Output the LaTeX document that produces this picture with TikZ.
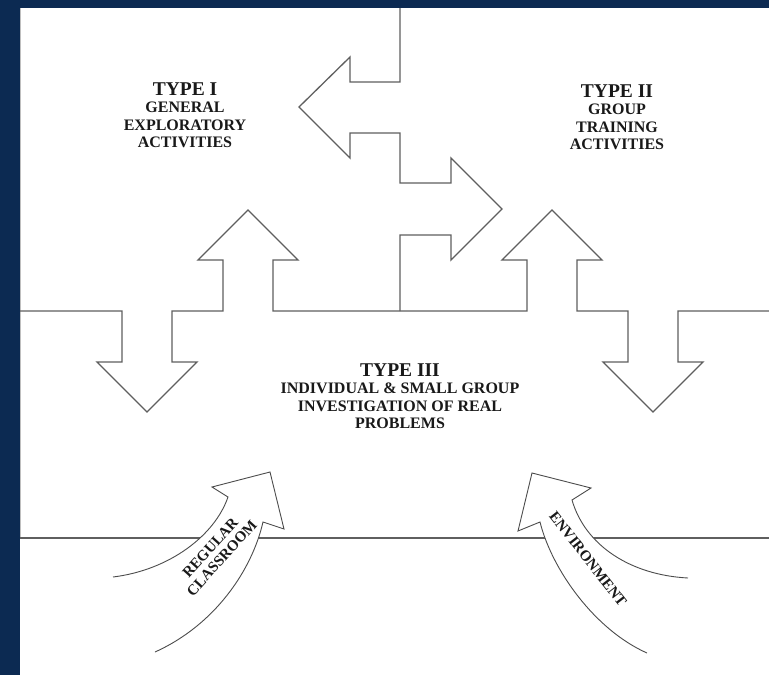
\documentclass[tikz,border=0pt]{standalone}
\usepackage{fontspec}
\setmainfont{Liberation Serif}
\definecolor{navy}{RGB}{12,42,82}
\definecolor{lineg}{RGB}{95,95,95}
\tikzset{
  outline/.style={draw=lineg, line width=1.3pt},
  bigarrow/.style={draw=lineg!80!black, fill=white, line width=0.9pt},
  typetext/.style={align=center, inner sep=0pt, text=black!90,
    font=\bfseries\fontsize{16}{17.5}\selectfont},
  curvetext/.style={align=center, inner sep=0pt, text=black!90,
    font=\bfseries\fontsize{15}{15.5}\selectfont}
}
\newcommand{\typehead}[1]{{\fontsize{19.5}{17.5}\selectfont #1}}

\begin{document}
\begin{tikzpicture}[x=1pt,y=-1pt]
  \useasboundingbox (0,0) rectangle (769,675);
  \fill[navy] (0,0) rectangle (769,675);
  \fill[white] (20,8) rectangle (769,675);
  \draw[gray!50] (20.5,8) -- (20.5,538);
  \draw[outline] (400,8) -- (400,82) -- (350,82) -- (350,57) -- (299,107) -- (350,158) -- (350,133)
    -- (400,133) -- (400,183) -- (451,183) -- (451,158) -- (502,209) -- (451,260) -- (451,235)
    -- (400,235) -- (400,311);
  \draw[outline] (20,311) -- (122,311) -- (122,362) -- (97,362) -- (147,412) -- (197,362) -- (172,362)
    -- (172,311) -- (223,311) -- (223,260) -- (198,260) -- (248,210) -- (298,260) -- (273,260)
    -- (273,311) -- (527,311) -- (527,260) -- (502,260) -- (552,210) -- (602,260) -- (577,260)
    -- (577,311) -- (628,311) -- (628,362) -- (603,362) -- (653,412) -- (703,362) -- (678,362)
    -- (678,311) -- (769,311);
  \draw[outline] (20,538) -- (769,538);
  \draw[bigarrow] (113,577) .. controls (170,570) and (215,535) .. (228,497) -- (212,487) -- (270,472)
    -- (284,529) -- (263,522) .. controls (252,570) and (215,625) .. (155,652);
  \draw[bigarrow] (688,578) .. controls (630,575) and (585,545) .. (572,500) -- (591,488) -- (532,473)
    -- (518,531) -- (540,522) .. controls (552,570) and (595,630) .. (647,653);
  \node[typetext] (typeone) at (185,115) {\typehead{TYPE I}\\GENERAL\\EXPLORATORY\\ACTIVITIES};
  \node[typetext] (typetwo) at (617,117) {\typehead{TYPE II}\\GROUP\\TRAINING\\ACTIVITIES};
  \node[typetext] (typethree) at (400,396) {\typehead{TYPE III}\\INDIVIDUAL \& SMALL GROUP\\INVESTIGATION OF REAL\\PROBLEMS};
  \node[curvetext, rotate=48] (regular) at (216,553) {REGULAR\\CLASSROOM};
  \node[curvetext, rotate=-52] (environment) at (588,559) {ENVIRONMENT};
\end{tikzpicture}
\end{document}
